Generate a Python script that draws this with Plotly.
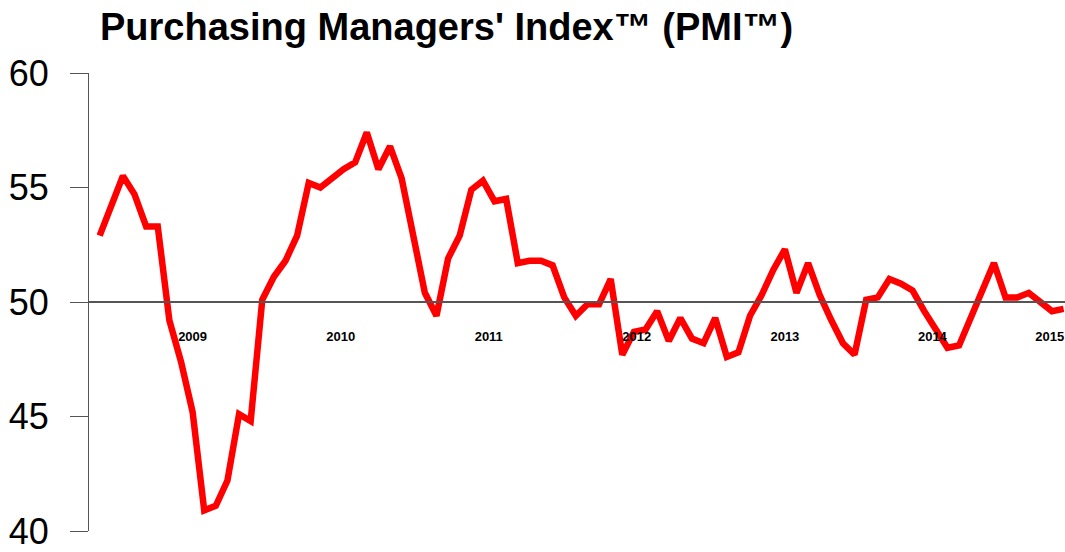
import plotly.graph_objects as go

# Monthly PMI readings (Feb 2008 .. Jan 2015)
pmi_values = [
    52.9, 54.2, 55.5, 54.7, 53.3, 53.3, 49.2, 47.4, 45.2, 40.9,
    41.1, 42.2, 45.1, 44.8, 50.1, 51.1, 51.8, 52.9, 55.2, 55.0,
    55.4, 55.8, 56.1, 57.4, 55.8, 56.8, 55.4, 53.0, 50.4, 49.4,
    51.9, 52.9, 54.9, 55.3, 54.4, 54.5, 51.7, 51.8, 51.8, 51.6,
    50.2, 49.4, 49.9, 49.9, 51.0, 47.7, 48.7, 48.8, 49.6, 48.3,
    49.3, 48.4, 48.2, 49.3, 47.6, 47.8, 49.4, 50.3, 51.4, 52.3,
    50.4, 51.7, 50.3, 49.2, 48.2, 47.7, 50.1, 50.2, 51.0, 50.8,
    50.5, 49.6, 48.8, 48.0, 48.1, 49.3, 50.6, 51.7, 50.2, 50.2,
    50.4, 50.0, 49.6, 49.7,
]
month_index = list(range(len(pmi_values)))

# Year labels on the category axis and their positions (in month index units)
year_labels = ["2009", "2010", "2011", "2012", "2013", "2014", "2015"]
year_label_pos = [8.0, 20.75, 33.5, 46.25, 59.0, 71.7, 81.8]

y_ticks = [40, 45, 50, 55, 60]

FONT = "Liberation Sans, Arial, sans-serif"

fig = go.Figure()
fig.add_trace(go.Scatter(
    x=month_index, y=pmi_values, mode="lines",
    line=dict(color="#FF0000", width=6.5),
    hoverinfo="skip", showlegend=False,
))

fig.update_layout(
    width=1065, height=552,
    margin=dict(l=89, r=0, t=73, b=21),
    paper_bgcolor="white", plot_bgcolor="white",
    font=dict(family=FONT, color="black"),
    title=dict(
        text="<b>Purchasing Managers' Index™ (PMI™)</b>",
        font=dict(size=38, color="black", family=FONT),
        x=100 / 1065, xanchor="left", xref="container",
        y=1 - 13 / 552, yanchor="top", yref="container",
    ),
    xaxis=dict(
        range=[-0.92, 83.12],
        anchor="free", position=0.5,
        showline=True, linecolor="#555555", linewidth=1.5,
        showgrid=False, zeroline=False, ticks="",
        tickvals=year_label_pos, ticktext=year_labels,
        tickfont=dict(size=13, color="black", family=FONT, weight="bold"),
        ticklabelstandoff=23,
    ),
    yaxis=dict(
        range=[40, 60],
        showline=True, linecolor="#555555", linewidth=1.2,
        showgrid=False, zeroline=False,
        ticks="outside", ticklen=18, tickcolor="#555555", tickwidth=1.2,
        tickvals=y_ticks,
        tickfont=dict(size=36, color="black"),
        ticklabelstandoff=14,
    ),
)

fig.write_html(
    "out.html",
    config={"displayModeBar": False},
    post_script="document.body.style.margin='0';",
)
